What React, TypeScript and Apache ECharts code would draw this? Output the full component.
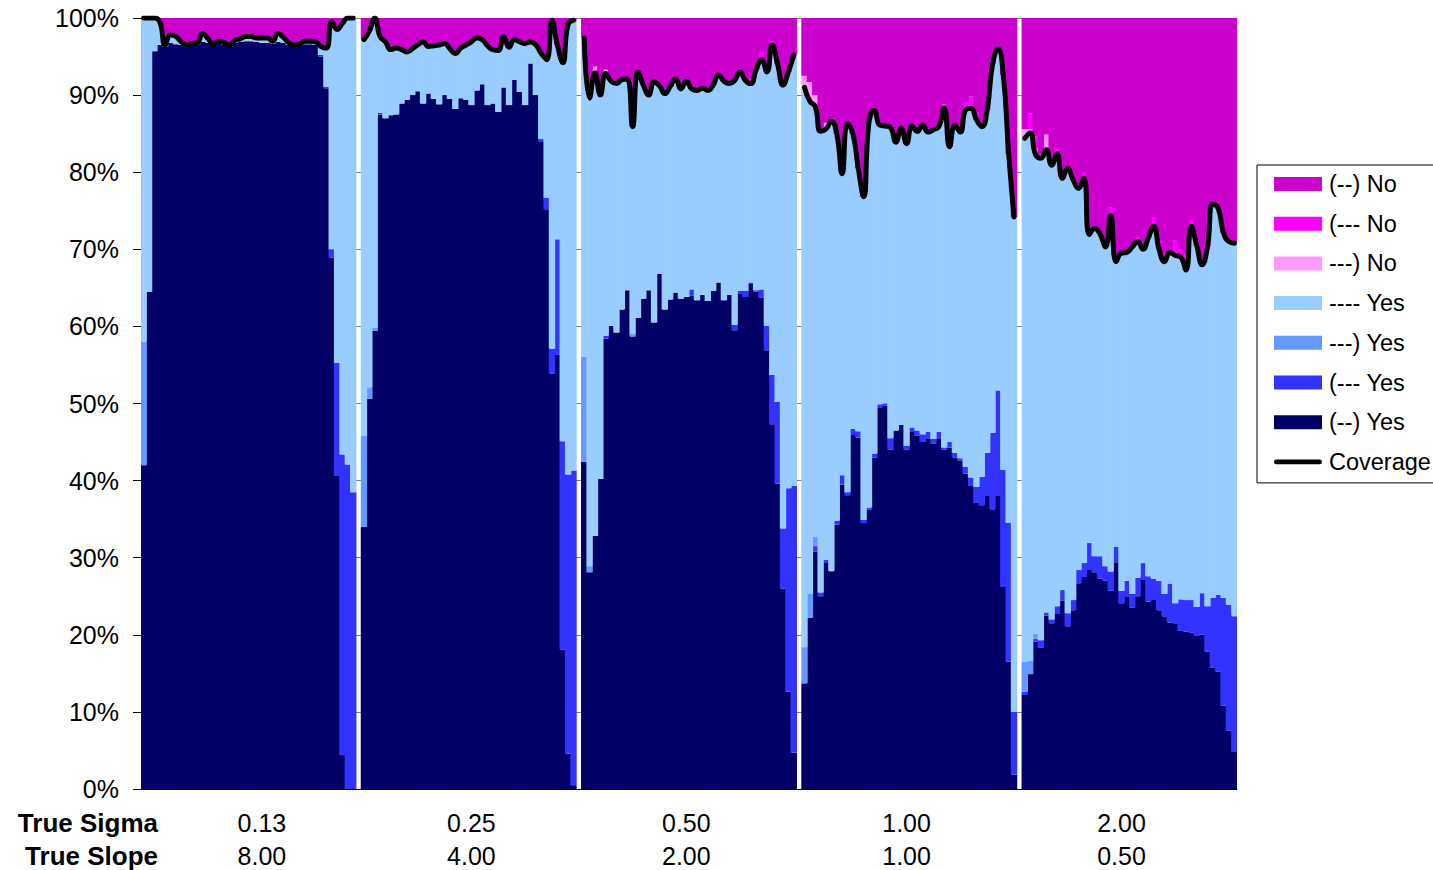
import React, { useEffect, useRef } from "react";
import * as echarts from "echarts";

const FONT = 'Arial, "Liberation Sans", sans-serif';

// x-axis two-level tick labels (one per panel)
const sigmaLabels = ["0.13", "0.25", "0.50", "1.00", "2.00"];
const slopeLabels = ["8.00", "4.00", "2.00", "1.00", "0.50"];
const labelIndex = [22, 61, 101, 142, 182];
const rowTitles = ["True Sigma", "True Slope"];

// coverage (% of Yes) per bar, 40 bars per panel
const coverage = [
  [100, 100, 100, 99.5, 96.5, 97.8, 97.6, 96.9, 96.5, 96.7, 96.8, 98.0, 97.3, 96.6, 97.0, 96.8, 96.5, 97.1, 97.3, 97.6, 97.6, 97.4, 97.4, 97.4, 97.0, 98.0, 97.5, 96.8, 96.5, 96.6, 97.0, 97.0, 96.9, 96.3, 96.1, 99.5, 98.5, 99.3, 100, 100],
  [97.2, 98.3, 100, 97.6, 96.9, 95.9, 96.1, 95.9, 95.6, 96.0, 96.5, 96.9, 96.3, 96.4, 96.5, 96.7, 96.0, 95.4, 96.1, 96.5, 96.9, 97.4, 97.2, 96.4, 95.9, 95.8, 97.6, 96.2, 97.2, 96.9, 96.7, 96.9, 96.5, 95.4, 94.6, 99.7, 96.5, 94.2, 99.2, 99.7],
  [97.4, 89.6, 92.9, 90.0, 92.8, 91.8, 91.5, 92.0, 92.1, 85.9, 93.0, 91.3, 90.0, 91.7, 91.2, 90.2, 91.1, 92.1, 90.8, 91.8, 90.8, 90.6, 90.9, 90.6, 91.3, 92.6, 91.8, 91.5, 91.9, 93.0, 91.9, 91.5, 93.3, 94.6, 93.0, 96.5, 94.0, 91.3, 93.0, 95.2],
  [91.0, 89.2, 88.5, 85.3, 85.6, 86.6, 85.0, 79.8, 86.3, 85.0, 80.5, 76.8, 86.5, 88.0, 86.1, 86.0, 85.8, 83.9, 85.7, 83.7, 86.0, 85.3, 86.1, 85.2, 85.5, 85.9, 88.3, 83.3, 86.1, 85.2, 88.1, 88.3, 86.8, 85.9, 88.1, 94.0, 96.0, 92.6, 82.4, 74.2],
  [84.4, 85.1, 82.3, 81.8, 82.9, 80.9, 82.4, 79.2, 80.5, 79.0, 77.9, 79.2, 71.9, 72.7, 72.0, 70.3, 74.4, 68.4, 69.5, 69.6, 70.3, 71.0, 70.0, 71.5, 73.0, 70.0, 68.4, 69.6, 69.2, 69.0, 67.3, 73.0, 70.5, 68.0, 70.3, 75.9, 75.3, 72.1, 71.0, 70.8],
];

// (--) Yes
const darkYes = [
  [42, 64.5, 95.7, 96.5, 96.3, 96.8, 96.6, 96.5, 96.3, 96.5, 96.6, 96.9, 96.8, 96.4, 96.7, 96.5, 96.3, 96.8, 96.9, 97.0, 97.0, 96.9, 96.8, 96.8, 96.7, 96.9, 96.8, 96.5, 96.3, 96.4, 96.6, 96.6, 96.5, 95.0, 90.9, 68.9, 40.6, 4.4, 0, 0],
  [34.0, 50.6, 59.4, 87.5, 87.0, 87.4, 87.5, 88.9, 89.4, 90.0, 90.5, 88.9, 90.2, 89.5, 88.8, 90.0, 89.5, 88.2, 89.6, 89.4, 88.7, 90.6, 91.4, 88.7, 88.9, 87.8, 91.0, 88.7, 92.0, 90.4, 88.7, 94.1, 90.0, 84.0, 75.2, 53.9, 56.3, 18.1, 4.6, 0.5],
  [42.4, 28.1, 32.8, 40.2, 58.4, 60.1, 59.2, 62.2, 64.7, 58.7, 61.1, 63.6, 64.7, 60.5, 66.8, 62.2, 63.5, 64.4, 63.6, 63.8, 64.0, 63.4, 64.1, 63.3, 64.6, 65.7, 63.4, 64.1, 59.5, 64.2, 63.8, 65.6, 64.5, 63.7, 56.9, 47.3, 39.6, 26.0, 12.6, 4.7],
  [13.7, 22.2, 30.8, 25.0, 29.4, 28.2, 34.3, 39.5, 38.1, 45.9, 45.6, 34.5, 36.2, 43.0, 49.5, 49.7, 44.0, 46.5, 47.2, 44.0, 46.3, 45.8, 45.0, 45.5, 44.8, 45.5, 44.0, 44.3, 43.0, 42.6, 40.9, 39.3, 37.1, 36.8, 38.0, 36.3, 38.0, 26.2, 16.5, 1.85],
  [12.2, 14.9, 19.1, 18.3, 22.5, 21.5, 22.7, 24.4, 21.1, 23.2, 26.7, 27.5, 28.5, 28.1, 27.3, 27.0, 25.7, 29.4, 24.1, 25.0, 23.5, 25.0, 27.2, 24.3, 24.6, 23.2, 22.4, 21.6, 21.5, 20.5, 20.4, 20.3, 19.9, 20.0, 17.8, 15.7, 15.2, 10.8, 7.6, 4.8],
];

// (--- Yes
const blueYes = [
  [0, 0, 0, 0, 0, 0, 0, 0, 0, 0, 0, 0, 0, 0, 0, 0, 0, 0, 0, 0, 0, 0, 0, 0, 0, 0, 0, 0, 0, 0, 0, 0, 0, 0.2, 0.2, 1.1, 14.7, 39.0, 42.1, 38.5],
  [0, 0, 0, 0.2, 0, 0, 0, 0, 0, 0, 0, 0, 0, 0, 0, 0, 0, 0, 0, 0, 0, 0, 0, 0, 0, 0, 0, 0, 0, 0, 0, 0, 0, 0.3, 1.5, 3.2, 15.0, 27.0, 36.2, 40.8],
  [0, 0, 0, 0, 0.4, 0, 0, 0, 0, 0, 0, 0, 0, 0, 0, 0, 0, 0, 0, 0, 0.8, 0, 0, 0, 0, 0, 0, 0, 0.7, 0.4, 0.8, 0.1, 0.2, 1.1, 3.2, 6.4, 10.6, 7.8, 26.4, 34.6],
  [0, 0, 0.7, 0.5, 0.3, 0.1, 0.5, 1.2, 0.4, 0.8, 0.8, 0.4, 0.3, 0.5, 0.4, 0.3, 1.5, 0, 0, 0.5, 0.6, 0.7, 1.0, 0.8, 0.6, 0.8, 0.3, 0.7, 0.6, 0.3, 0.9, 1.1, 2.1, 3.7, 5.6, 9.9, 13.7, 15.2, 18.0, 8.15],
  [0.4, 0, 0.4, 1.0, 0.4, 0.5, 1.0, 1.4, 1.7, 1.3, 1.7, 1.8, 3.4, 2.1, 2.9, 1.9, 2.5, 2.0, 1.6, 2.0, 1.8, 2.4, 2.1, 3.3, 2.7, 3.8, 2.9, 5.0, 2.6, 4.1, 4.1, 4.2, 3.7, 5.4, 5.9, 9.1, 10.0, 14.0, 16.3, 17.6],
];

// ---) Yes
const midYes = [
  [16, 0, 0, 0, 0, 0, 0, 0, 0, 0, 0, 0, 0, 0, 0, 0, 0, 0, 0, 0, 0, 0, 0, 0, 0, 0, 0, 0, 0, 0, 0, 0, 0, 0, 0, 0, 0, 0, 0, 0],
  [11.8, 1.5, 0.4, 0, 0, 0, 0, 0, 0, 0, 0, 0, 0, 0, 0, 0, 0, 0, 0, 0, 0, 0, 0, 0, 0, 0, 0, 0, 0, 0, 0, 0, 0, 0, 0, 0, 0, 0, 0, 0],
  [13.7, 0.8, 0, 0, 0, 0, 0, 0, 0, 0.3, 0, 0, 0, 0, 0, 0, 0, 0, 0, 0, 0, 0, 0, 0, 0, 0, 0, 0, 0, 0, 0, 0, 0, 0, 0, 0, 0, 0, 0, 0],
  [4.7, 3.1, 1.2, 0, 0, 0, 0, 0, 0, 0, 0, 0, 0, 0, 0, 0, 0, 0, 0, 0, 0, 0, 0, 0, 0, 0, 0, 0, 0, 0, 0, 0, 0, 0, 0, 0, 0, 0, 0, 0],
  [3.9, 1.7, 0.6, 0, 0, 0, 0, 0, 0, 0, 0, 0, 0, 0, 0, 0, 0, 0, 0, 0, 0, 0, 0, 0, 0, 0, 0, 0, 0, 0, 0, 0, 0, 0, 0, 0, 0, 0, 0, 0.1],
];

// ---) No
const pinkNo = [
  [0, 0, 0, 0, 0, 0, 0, 0, 0, 0, 0, 0, 0, 0, 0, 0, 0, 0, 0, 0, 0, 0, 0, 0, 0, 0, 0, 0, 0, 0, 0, 0, 0, 0, 0, 0, 0, 0, 0, 0],
  [0, 0, 0, 0, 0, 0, 0, 0, 0, 0, 0, 0, 0, 0, 0, 0, 0, 0, 0, 0, 0, 0, 0, 0, 0, 0, 0, 0, 0, 0, 0, 0, 0, 0, 0, 0, 0, 0, 0, 0],
  [0, 1.5, 0.8, 0.8, 0.5, 0, 0, 0, 0, 0, 0, 0, 0, 0, 0, 0, 0, 0, 0, 0, 0, 0, 0, 0, 0, 0, 0, 0, 0, 0, 0, 0, 0, 0, 0, 0, 0, 0, 0, 0],
  [1.5, 2.5, 1.5, 0, 0.8, 0, 0, 0, 0, 0, 0, 0, 0.3, 0, 0, 0, 0, 0, 0, 0, 0, 0, 0, 0, 0, 0, 0, 0, 0, 0, 0, 0, 0, 0, 0, 0, 0, 0, 0, 0],
  [1.2, 0.5, 0.8, 0, 2.0, 0.5, 0, 0, 0, 0, 0, 0, 0, 0, 0, 0, 0, 0, 0, 0, 0, 0, 0, 0, 0, 0, 0, 0, 0, 0, 0, 0, 0, 0, 0, 0, 0, 0, 0, 0],
];

// (--- No
const magentaNo = [
  [0, 0, 0, 0, 0, 0, 0, 0, 0, 0, 0, 0, 0, 0, 0, 0, 0, 0, 0, 0, 0, 0, 0, 0, 0, 0, 0, 0, 0, 0, 0, 0, 0, 0, 0, 0, 0, 0, 0, 0],
  [0, 0, 0, 0, 0, 0, 0, 0, 0, 0, 0, 0, 0, 0, 0, 0, 0, 0, 0, 0, 0, 0, 0, 0, 0, 0, 0, 0, 0, 0, 0, 0, 0, 0, 0, 0, 0, 0, 0, 0],
  [0, 0, 0, 0, 0, 0, 0, 0, 0, 0, 0, 0, 0, 0, 0, 0, 0, 0, 0, 0, 0, 0, 0, 0, 0, 0, 0, 0, 0, 0, 0, 0.5, 0, 1.0, 0, 0.5, 0, 0, 0, 0],
  [0, 0, 0, 0.3, 0, 0, 0, 0, 0, 0, 0, 0, 0, 0, 0, 0, 0, 0, 0, 0, 0, 0, 0, 0, 0, 0, 0.5, 0, 0, 0, 1.0, 1.5, 1.0, 0, 0, 0.5, 0, 0, 0, 0],
  [0, 2.0, 1.5, 0.5, 0, 0, 0.5, 0, 0, 0, 0, 0.8, 0, 0, 0, 0, 1.0, 0, 0, 0, 0, 0.5, 0, 0, 1.2, 1.0, 0, 0, 2.0, 1.0, 2.0, 0.8, 0, 0, 1.2, 0, 0, 0, 0, 0],
];

const COLORS = {
  darkYes: "#000066",
  blueYes: "#3333FF",
  midYes: "#6699FF",
  lightYes: "#99CCFF",
  pinkNo: "#FF99FF",
  magentaNo: "#FF00FF",
  purpleNo: "#CC00CC",
};

function flatten(panels: number[][]): (number | null)[] {
  const out: (number | null)[] = [];
  panels.forEach((p, k) => {
    out.push(...p);
    if (k < panels.length - 1) out.push(null);
  });
  return out;
}

const r2 = (v: number) => Math.max(0, Math.round(v * 100) / 100);

export default function App() {
  const ref = useRef<HTMLDivElement>(null);

  useEffect(() => {
    if (!ref.current) return;
    const chart = echarts.init(ref.current, undefined, { renderer: "svg" });

    const cov = flatten(coverage);
    const dark = flatten(darkYes);
    const blue = flatten(blueYes);
    const mid = flatten(midYes);
    const pink = flatten(pinkNo);
    const mag = flatten(magentaNo);
    const light = cov.map((c, i) =>
      c === null ? null : r2(c - (dark[i] as number) - (blue[i] as number) - (mid[i] as number))
    );
    const purple = cov.map((c, i) =>
      c === null ? null : r2(100 - c - (pink[i] as number) - (mag[i] as number))
    );
    const categories = cov.map((_, i) => String(i));

    const stackDefs = [
      { name: "(--) Yes", color: COLORS.darkYes, data: dark },
      { name: "(--- Yes", color: COLORS.blueYes, data: blue },
      { name: "---) Yes", color: COLORS.midYes, data: mid },
      { name: "---- Yes", color: COLORS.lightYes, data: light },
      { name: "---) No", color: COLORS.pinkNo, data: pink },
      { name: "(--- No", color: COLORS.magentaNo, data: mag },
      { name: "(--) No", color: COLORS.purpleNo, data: purple },
    ];

    const barSeries = stackDefs.map((s) => ({
      name: s.name,
      type: "bar",
      stack: "all",
      data: s.data,
      barWidth: 6.4,
      itemStyle: { color: s.color, borderWidth: 0 },
      emphasis: { disabled: true },
      silent: true,
    }));

    const legendOrder = ["(--) No", "(--- No", "---) No", "---- Yes", "---) Yes", "(--- Yes", "(--) Yes"];

    chart.setOption({
      animation: false,
      grid: {
        left: 141,
        top: 18,
        width: 1096,
        height: 771,
        containLabel: false,
        outerBoundsMode: "none",
      },
      xAxis: {
        type: "category",
        data: categories,
        boundaryGap: true,
        axisLine: { show: true, lineStyle: { color: "#000", width: 1 } },
        axisTick: { show: false },
        splitLine: { show: false },
        axisLabel: {
          interval: (index: number) => labelIndex.includes(index),
          formatter: (_v: string, index: number) => {
            const k = labelIndex.indexOf(index);
            return k >= 0 ? `${sigmaLabels[k]}\n${slopeLabels[k]}` : "";
          },
          fontSize: 25,
          lineHeight: 33,
          color: "#000",
          fontFamily: FONT,
          margin: 17,
          hideOverlap: false,
        },
      },
      yAxis: {
        type: "value",
        min: 0,
        max: 100,
        interval: 10,
        axisLine: { show: true, lineStyle: { color: "#000", width: 1 } },
        axisTick: { show: true, length: 8, lineStyle: { color: "#000" } },
        splitLine: { show: true, lineStyle: { color: "#808080", width: 1 } },
        axisLabel: {
          formatter: "{value}%",
          fontSize: 25,
          color: "#000",
          fontFamily: FONT,
          margin: 22,
        },
      },
      legend: {
        orient: "vertical",
        left: 1257,
        top: 165,
        itemWidth: 48,
        itemHeight: 14,
        itemGap: 15.7,
        padding: [7, 40, 9, 17],
        borderColor: "#000",
        borderWidth: 1,
        selectedMode: false,
        textStyle: { fontSize: 23.5, color: "#000", fontFamily: FONT, lineHeight: 14, padding: [0, 0, 0, 2] },
        data: [
          ...legendOrder.map((n) => ({ name: n, icon: "rect" })),
          {
            name: "Coverage",
            icon: "path://M0 0L0.01 0L0.01 0.01Z M2.3 4.6H45.7A2.4 2.4 0 0 1 45.7 9.4H2.3A2.4 2.4 0 0 1 2.3 4.6Z M0 14L0.01 14L0.01 13.99Z",
          },
        ],
      },
      graphic: rowTitles.map((t, k) => ({
        type: "text",
        right: 1433 - 158,
        top: 810 + k * 33,
        style: {
          text: t,
          fontSize: 26,
          fontWeight: "bold",
          fontFamily: FONT,
          fill: "#000",
        },
      })),
      series: [
        ...barSeries,
        {
          name: "Coverage",
          type: "line",
          data: cov,
          smooth: true,
          connectNulls: false,
          symbol: "none",
          showSymbol: false,
          color: "#000",
          lineStyle: { color: "#000", width: 5, cap: "round", join: "round" },
          z: 10,
          silent: true,
        },
      ],
    });

    return () => chart.dispose();
  }, []);

  return (
    <div
      ref={ref}
      style={{ position: "absolute", left: 0, top: 0, width: 1433, height: 870, background: "#fff" }}
    />
  );
}
